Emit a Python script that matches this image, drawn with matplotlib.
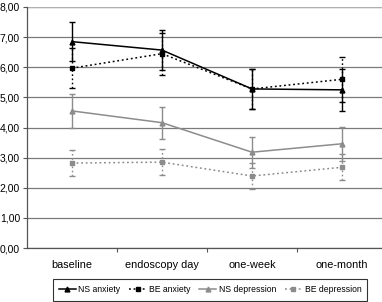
import matplotlib
matplotlib.use("Agg")
import matplotlib.pyplot as plt
from matplotlib.ticker import FuncFormatter, FixedLocator

categories = ["baseline", "endoscopy day", "one-week", "one-month"]

ns_anx = [6.85, 6.57, 5.28, 5.25]
ns_anx_err = [0.65, 0.66, 0.65, 0.70]
be_anx = [5.97, 6.45, 5.28, 5.60]
be_anx_err = [0.67, 0.70, 0.65, 0.75]
ns_dep = [4.55, 4.16, 3.18, 3.46]
ns_dep_err = [0.55, 0.53, 0.52, 0.57]
be_dep = [2.82, 2.85, 2.39, 2.68]
be_dep_err = [0.42, 0.43, 0.43, 0.43]

yticks = [0, 1, 2, 3, 4, 5, 6, 7, 8]

plt.rcParams['font.family'] = ['Liberation Sans', 'DejaVu Sans']

W, H = 382, 302
fig = plt.figure(figsize=(W / 100, H / 100), dpi=100)
ax = fig.add_axes([27 / W, 1 - 248 / H, (387 - 27) / W, (248 - 7) / H])

x = list(range(len(categories)))
dot = (0, (1.2, 1.8))
series = [
    (ns_anx, ns_anx_err, "NS anxiety", "black", "-", "^"),
    (be_anx, be_anx_err, "BE anxiety", "black", dot, "s"),
    (ns_dep, ns_dep_err, "NS depression", "#8c8c8c", "-", "^"),
    (be_dep, be_dep_err, "BE depression", "#8c8c8c", dot, "s"),
]
handles = []
for vals, err, lab, col, ls, mk in series:
    eb = ax.errorbar(x, vals, yerr=err, color=col, linestyle=ls, linewidth=1.1,
                     marker=mk, markersize=3.5, capsize=2, elinewidth=1.0,
                     capthick=1.0, label=lab, zorder=3)
    eb[2][0].set_linestyle(ls)
    h, = ax.plot([], [], color=col, linestyle=ls, linewidth=1.1, marker=mk, markersize=3.5)
    handles.append((h, lab))

ax.set_xlim(-0.5, 3.5)
ax.set_ylim(0, 8)
ax.set_yticks(yticks)
ax.yaxis.set_major_formatter(FuncFormatter(lambda v, p: f"{v:.2f}".replace(".", ",")))
ax.grid(axis='y', color='#7a7a7a', linewidth=0.9)
ax.set_axisbelow(True)

ax.xaxis.set_major_locator(FixedLocator([0.5, 1.5, 2.5]))
ax.xaxis.set_major_formatter(FuncFormatter(lambda v, p: ""))
ax.xaxis.set_minor_locator(FixedLocator(x))
ax.set_xticklabels(categories, minor=True)
ax.tick_params(axis='x', which='minor', length=0, pad=9, labelsize=7.8)
ax.tick_params(axis='x', which='major', length=3, width=0.8, color='#555555', direction='out')
ax.tick_params(axis='y', length=3, width=0.8, color='#555555', labelsize=7.5, pad=2)

for s in ['top', 'right']:
    ax.spines[s].set_visible(False)
for s in ['left', 'bottom']:
    ax.spines[s].set_color('#555555')
    ax.spines[s].set_linewidth(0.9)
ax.axhline(8, color='#b0b0b0', linewidth=1.6, zorder=1)

leg = fig.legend([h for h, _ in handles], [l for _, l in handles], ncol=4,
                 loc='center', bbox_to_anchor=(210 / W, 1 - 290 / H),
                 fontsize=6.2, frameon=True, fancybox=False, edgecolor='black',
                 handlelength=2.0, handletextpad=0.3, columnspacing=1.0,
                 borderpad=0.7)
leg.get_frame().set_linewidth(0.8)

fig.savefig("out.png", dpi=100)
